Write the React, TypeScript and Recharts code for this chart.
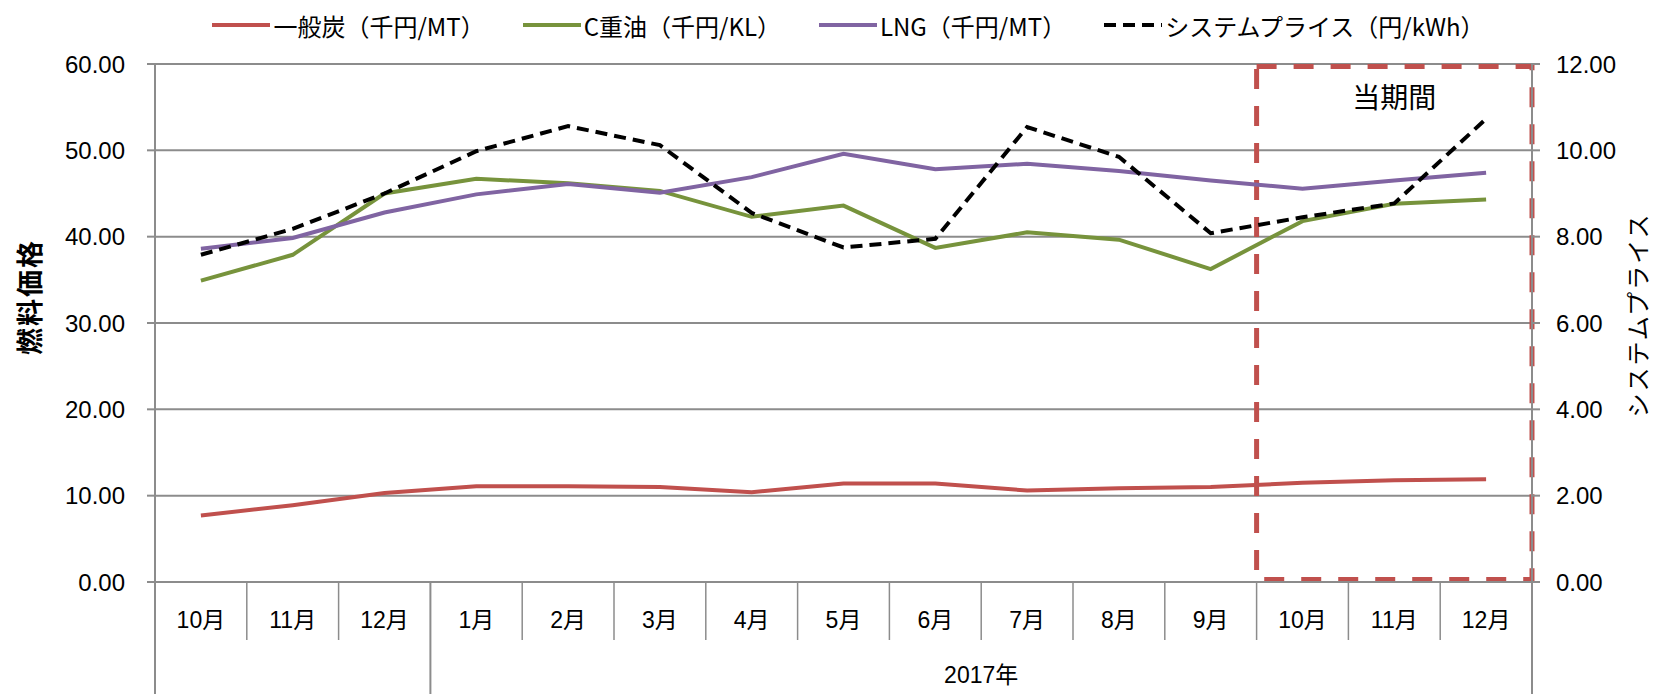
import React from 'react'
import {
  LineChart,
  Line,
  XAxis,
  YAxis,
  CartesianGrid,
  ReferenceArea,
  Legend,
} from 'recharts'

document.body.style.margin = '0'

const months = ['10月', '11月', '12月', '1月', '2月', '3月', '4月', '5月', '6月', '7月', '8月', '9月', '10月', '11月', '12月']
const coalPrice = [7.7, 8.9, 10.3, 11.1, 11.1, 11.0, 10.4, 11.4, 11.4, 10.6, 10.85, 11.0, 11.5, 11.8, 11.9]
const oilPrice = [34.9, 37.9, 45.0, 46.7, 46.2, 45.3, 42.3, 43.6, 38.7, 40.5, 39.65, 36.25, 41.8, 43.8, 44.3]
const lngPrice = [38.6, 39.85, 42.8, 44.9, 46.1, 45.1, 46.9, 49.6, 47.8, 48.45, 47.6, 46.5, 45.55, 46.5, 47.4]
const systemPrice = [7.58, 8.18, 9.0, 9.98, 10.56, 10.12, 8.55, 7.75, 7.95, 10.54, 9.85, 8.08, 8.45, 8.77, 10.73]
const seriesNames = ['一般炭（千円/MT）', 'C重油（千円/KL）', 'LNG（千円/MT）', 'システムプライス（円/kWh）']
const yearGroups = [
  { label: '', first: 0, last: 2 },
  { label: '2017年', first: 3, last: 14 },
]
const leftTicks = [0, 10, 20, 30, 40, 50, 60]
const rightTicks = [0, 2, 4, 6, 8, 10, 12]
const leftTitle = '燃料価格'
const rightTitle = 'システムプライス'
const periodLabel = '当期間'
const periodFirst = 12
const periodLast = 14
// the highlight box sits a little inside the plot frame
const periodBottom = 0.3
const periodTop = 59.7

const GRID = '#8c8c8c'
const NUM_FONT = "'Liberation Sans', 'Noto Sans CJK JP', sans-serif"
const JP_FONT = "'Noto Sans CJK JP', sans-serif"

const data = months.map((m, i) => ({
  idx: i,
  month: m,
  coal: coalPrice[i],
  oil: oilPrice[i],
  lng: lngPrice[i],
  price: systemPrice[i],
}))

const lines = [
  { key: 'coal', name: seriesNames[0], color: '#C0504D', axis: 'left', dash: undefined },
  { key: 'oil', name: seriesNames[1], color: '#77933C', axis: 'left', dash: undefined },
  { key: 'lng', name: seriesNames[2], color: '#8064A2', axis: 'left', dash: undefined },
  { key: 'price', name: seriesNames[3], color: '#000000', axis: 'right', dash: '12 7' },
]

// ticks on every category and every category boundary
const xTicks: number[] = []
for (let i = -1; i < months.length * 2; i++) xTicks.push(i / 2)
const groupEdges = yearGroups.flatMap((g) => [g.first - 0.5, g.last + 0.5])

function CategoryTick(props: any) {
  const { x, y, payload } = props
  const v = payload.value as number
  if (Number.isInteger(v)) {
    return (
      <text x={x} y={y + 38} textAnchor="middle" dominantBaseline="central"
        fontFamily={NUM_FONT} fontSize={23} fill="#000">
        {months[v]}
      </text>
    )
  }
  const long = groupEdges.includes(v)
  const group = yearGroups.find((g) => g.label && (g.first + g.last) / 2 === v)
  return (
    <g>
      <line x1={x} x2={x} y1={y} y2={y + (long ? 112 : 58)} stroke={GRID} strokeWidth={long ? 2 : 1.5} />
      {group && (
        <text x={x} y={y + 93} textAnchor="middle" dominantBaseline="central"
          fontFamily={NUM_FONT} fontSize={23} fill="#000">
          {group.label}
        </text>
      )}
    </g>
  )
}

function renderLegend() {
  return (
    <div style={{ height: 64, display: 'flex', justifyContent: 'center', paddingLeft: 44, boxSizing: 'border-box' }}>
      <div style={{ height: 50, display: 'flex', alignItems: 'center', gap: 38 }}>
        {lines.map((l) => (
          <div key={l.key} style={{ display: 'flex', alignItems: 'center', gap: 3 }}>
            <svg width={58} height={8}>
              <line x1={0} x2={58} y1={4} y2={4} stroke={l.color} strokeWidth={4} strokeDasharray={l.dash} />
            </svg>
            <span style={{ fontFamily: JP_FONT, fontSize: 24, color: '#000' }}>
              {l.name}
            </span>
          </div>
        ))}
      </div>
    </div>
  )
}

export default function App() {
  return (
    <LineChart width={1653} height={694} data={data} margin={{ top: 0, right: 0, bottom: 0, left: 0 }}>
      <Legend verticalAlign="top" align="center" content={renderLegend} />
      <CartesianGrid yAxisId="left" vertical={false} stroke={GRID} strokeWidth={2} />
      <XAxis
        dataKey="idx"
        type="number"
        domain={[-0.5, months.length - 0.5]}
        ticks={xTicks}
        interval={0}
        tick={(p: any) => <CategoryTick {...p} />}
        tickLine={false}
        tickSize={0}
        tickMargin={0}
        height={112}
        axisLine={{ stroke: GRID, strokeWidth: 2 }}
      />
      <YAxis
        yAxisId="left"
        domain={[0, 60]}
        ticks={leftTicks}
        interval={0}
        width={155}
        tickFormatter={(v: number) => v.toFixed(2)}
        tick={{ fontSize: 24, fill: '#000', fontFamily: NUM_FONT }}
        tickSize={8}
        tickMargin={22}
        axisLine={{ stroke: GRID, strokeWidth: 2 }}
        tickLine={{ stroke: GRID, strokeWidth: 2 }}
        label={{
          content: ({ viewBox }: any) => {
            const cx = viewBox.x + 28
            const cy = viewBox.y + viewBox.height / 2 - 26
            return (
              <text x={cx} y={cy} transform={`rotate(-90, ${cx}, ${cy})`} textAnchor="middle"
                dominantBaseline="central" fontFamily={JP_FONT} fontWeight="bold" fontSize={27}
                letterSpacing={2} fill="#000">
                {leftTitle}
              </text>
            )
          },
        }}
      />
      <YAxis
        yAxisId="right"
        orientation="right"
        domain={[0, 12]}
        ticks={rightTicks}
        interval={0}
        width={121}
        tickFormatter={(v: number) => v.toFixed(2)}
        tick={{ fontSize: 24, fill: '#000', fontFamily: NUM_FONT }}
        tickSize={8}
        tickMargin={16}
        axisLine={{ stroke: GRID, strokeWidth: 2 }}
        tickLine={{ stroke: GRID, strokeWidth: 2 }}
        label={{
          content: ({ viewBox }: any) => {
            const cx = viewBox.x + 104
            const cy = viewBox.y + viewBox.height / 2 - 8
            return (
              <text x={cx} y={cy} transform={`rotate(-90, ${cx}, ${cy})`} textAnchor="middle"
                dominantBaseline="central" fontFamily={JP_FONT} fontSize={24} letterSpacing={2} fill="#000">
                {rightTitle}
              </text>
            )
          },
        }}
      />
      {lines.map((l) => (
        <Line
          key={l.key}
          yAxisId={l.axis}
          type="linear"
          dataKey={l.key}
          name={l.name}
          stroke={l.color}
          strokeWidth={4}
          strokeDasharray={l.dash}
          dot={false}
          activeDot={false}
          isAnimationActive={false}
        />
      ))}
      <ReferenceArea
        yAxisId="left"
        x1={periodFirst - 0.5}
        x2={periodLast + 0.5}
        y1={periodBottom}
        y2={periodTop}
        fill="none"
        fillOpacity={0}
        stroke="#C0504D"
        strokeWidth={5}
        strokeDasharray="20 17"
        ifOverflow="visible"
        label={{
          content: ({ viewBox }: any) => (
            <text x={viewBox.x + viewBox.width / 2} y={viewBox.y + 29} textAnchor="middle"
              dominantBaseline="central" fontFamily={JP_FONT} fontSize={28} fill="#000">
              {periodLabel}
            </text>
          ),
        }}
      />
    </LineChart>
  )
}
